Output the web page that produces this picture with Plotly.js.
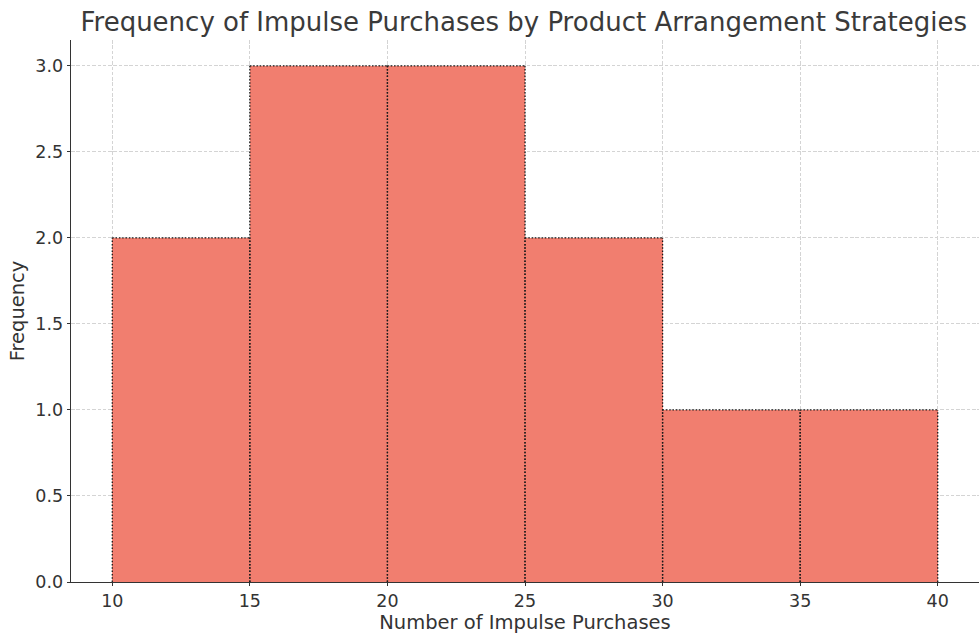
<!DOCTYPE html>
<html>
<head>
<meta charset="utf-8">
<script src="https://cdn.plot.ly/plotly-3.0.1.min.js"></script>
<style>html,body{margin:0;padding:0;background:#fff;}#chart{width:979px;height:638px;}</style>
</head>
<body>
<div id="chart"></div>
<script>
var binStarts = [10, 15, 20, 25, 30, 35];
var binWidth = 5;
var counts = [2, 3, 3, 2, 1, 1];
var xTicks = [10, 15, 20, 25, 30, 35, 40];
var yTicks = [0, 0.5, 1.0, 1.5, 2.0, 2.5, 3.0];

var centers = binStarts.map(function(s){ return s + binWidth / 2; });

// Edge segments: vertical edges always drawn bottom-up so shared edges overlap in phase
var outlineX = [], outlineY = [];
binStarts.forEach(function(s, i){
  var e = s + binWidth, c = counts[i];
  outlineX.push(s, s, null, e, e, null, s, e, null);
  outlineY.push(0, c, null, 0, c, null, c, c, null);
});

var bars = {
  type: 'bar',
  x: centers,
  y: counts,
  width: binWidth,
  marker: {color: '#F17E6F', line: {width: 0}},
  hoverinfo: 'skip'
};
var edges = {
  type: 'scatter',
  mode: 'lines',
  x: outlineX,
  y: outlineY,
  connectgaps: false,
  line: {color: '#1a1a1a', width: 1.3, dash: '1.5px,1.8px'},
  hoverinfo: 'skip'
};

var F = 'DejaVu Sans, sans-serif';

var layout = {
  width: 979,
  height: 638,
  margin: {l: 71, r: 0, t: 40, b: 56},
  paper_bgcolor: '#fff',
  plot_bgcolor: '#fff',
  showlegend: false,
  bargap: 0,
  font: {family: F, color: '#333'},
  title: {
    text: 'Frequency of Impulse Purchases by Product Arrangement Strategies',
    font: {family: F, size: 26, color: '#3a3a3a'},
    x: 0.535, xanchor: 'center', y: 0.965, yanchor: 'middle'
  },
  xaxis: {
    range: [8.5, 41.5],
    tickvals: xTicks,
    ticktext: xTicks.map(String),
    ticks: 'outside', ticklen: 3, tickcolor: '#333',
    tickfont: {family: F, size: 17.5, color: '#333'},
    showgrid: true, gridcolor: '#d4d4d4', griddash: '3.5px,1.8px', gridwidth: 1,
    showline: true, linecolor: '#333', linewidth: 1.3,
    zeroline: false,
    title: {text: 'Number of Impulse Purchases', font: {family: F, size: 19.5, color: '#333'}, standoff: 3}
  },
  yaxis: {
    range: [0, 3.15],
    tickvals: yTicks,
    ticktext: yTicks.map(function(v){ return v.toFixed(1); }),
    ticks: 'outside', ticklen: 3, tickcolor: '#333',
    tickfont: {family: F, size: 17.5, color: '#333'},
    showgrid: true, gridcolor: '#d4d4d4', griddash: '3.5px,1.8px', gridwidth: 1,
    showline: true, linecolor: '#333', linewidth: 1.3,
    zeroline: false,
    title: {text: 'Frequency', font: {family: F, size: 19.5, color: '#333'}, standoff: 5}
  }
};

Plotly.newPlot('chart', [bars, edges], layout, {staticPlot: true, displayModeBar: false});
</script>
</body>
</html>
